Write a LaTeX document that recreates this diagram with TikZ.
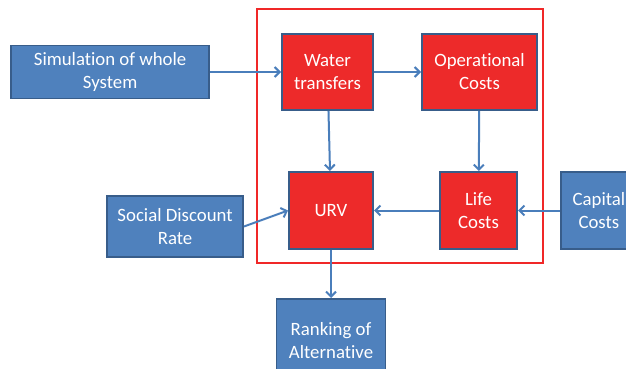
\documentclass[tikz,border=0pt]{standalone}
\usepackage{fontspec}
\setmainfont[Ligatures=NoCommon]{Carlito}
\usetikzlibrary{positioning,arrows.meta}
\definecolor{myblue}{RGB}{79,129,189}
\definecolor{myborder}{RGB}{56,93,138}
\definecolor{myred}{RGB}{237,42,42}
\definecolor{myarrow}{RGB}{74,126,187}
\definecolor{myframe}{RGB}{240,40,40}

\begin{document}
\begin{tikzpicture}[inner sep=0pt,font=\fontsize{18.8}{23}\selectfont]
\tikzstyle{main}=[rectangle, align=center, text=white, fill=myred, draw=myborder, line width=2pt, minimum height=76pt]
\tikzstyle{ext}=[rectangle, align=center, text=white, fill=myblue, draw=myborder, line width=1.8pt]
\tikzstyle{connect}=[-{Straight Barb[length=5pt,width=10pt]}, line width=2pt, draw=myarrow]
\tikzstyle{frame}=[draw=myframe, line width=1.5pt]
\clip (0,0) rectangle (626pt,-369pt);
\node[main,minimum width=91pt] (wt) at (327.5pt,-72pt) {Water\\transfers};
\node[main,minimum width=115pt] (op) [right=47pt of wt] {Operational\\Costs};
\node[main,minimum width=84pt,minimum height=77pt] (urv) [below=60pt of wt,xshift=3.5pt] {URV};
\node[main,minimum width=77pt,minimum height=77pt] (life) [below=60pt of op,xshift=-1pt] {Life\\Costs};
\node[ext,minimum width=76pt,minimum height=77pt] (cap) [right=42pt of life] {Capital\\Costs};
\node[ext,minimum width=198pt,minimum height=53pt] (sim) [left=71pt of wt] {Simulation of whole\\System};
\node[ext,minimum width=136pt,minimum height=61pt] (sdr) [left=44pt of urv,yshift=-16pt] {Social Discount\\Rate};
\node[ext,minimum width=109pt,minimum height=84pt] (rank) [below=48pt of urv] {Ranking of\\Alternative};
\draw[frame] ([xshift=-24pt,yshift=24pt]wt.north west) rectangle ([xshift=5pt,yshift=-13pt]op.east |- urv.south);
\path (sim.east) edge[connect] (wt.west);
\path (wt) edge[connect] (op);
\path (wt) edge[connect] (urv);
\path (op) edge[connect] (life);
\path (life) edge[connect] (urv);
\path (cap) edge[connect] (life);
\path (sdr.east) edge[connect] (urv.west);
\path (urv) edge[connect] (rank);
\end{tikzpicture}
\end{document}
